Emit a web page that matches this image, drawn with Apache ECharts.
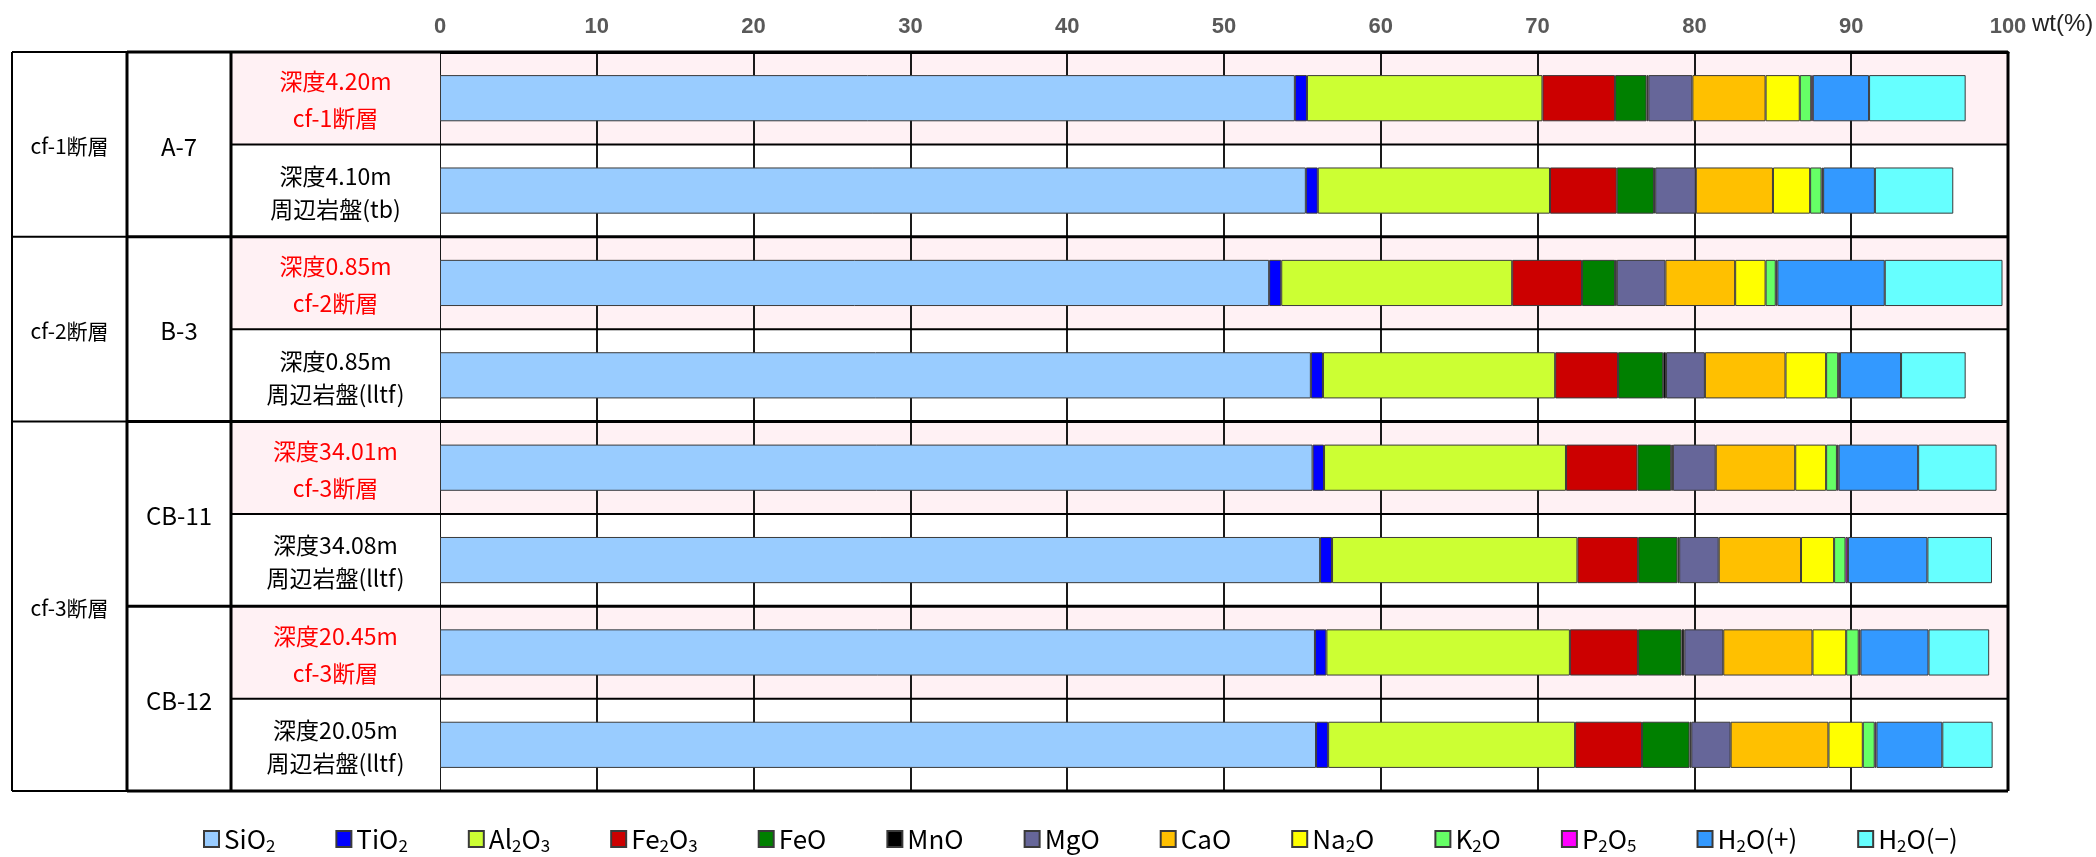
<!DOCTYPE html>
<html><head><meta charset="utf-8">
<script src="https://cdn.jsdelivr.net/npm/echarts@6/dist/echarts.min.js"></script>
<style>html,body{margin:0;padding:0;background:#fff}#c{width:2096px;height:857px}</style>
</head><body><div id="c"></div>
<script>
// ---------- data ----------
const faults = ['cf-1断層', 'cf-2断層', 'cf-3断層'];
const faultSpans = [2, 2, 4];
const boreholes = ['A-7', 'B-3', 'CB-11', 'CB-12'];
const boreholeSpans = [2, 2, 2, 2];
const sampleDepths = ['深度4.20m', '深度4.10m', '深度0.85m', '深度0.85m', '深度34.01m', '深度34.08m', '深度20.45m', '深度20.05m'];
const sampleTypes = ['cf-1断層', '周辺岩盤(tb)', 'cf-2断層', '周辺岩盤(lltf)', 'cf-3断層', '周辺岩盤(lltf)', 'cf-3断層', '周辺岩盤(lltf)'];
const sampleIsFault = [true, false, true, false, true, false, true, false];

const components = ['SiO2', 'TiO2', 'Al2O3', 'Fe2O3', 'FeO', 'MnO', 'MgO', 'CaO', 'Na2O', 'K2O', 'P2O5', 'H2O(+)', 'H2O(−)'];
const SiO2  = [54.52, 55.22, 52.88, 55.54, 55.65, 56.13, 55.80, 55.87];
const TiO2  = [0.77, 0.76, 0.77, 0.77, 0.73, 0.76, 0.73, 0.77];
const Al2O3 = [15.02, 14.81, 14.73, 14.81, 15.43, 15.65, 15.53, 15.75];
const Fe2O3 = [4.63, 4.26, 4.45, 4.01, 4.56, 3.87, 4.34, 4.27];
const FeO   = [2.01, 2.37, 2.11, 2.88, 2.15, 2.51, 2.78, 3.03];
const MnO   = [0.11, 0.08, 0.11, 0.18, 0.11, 0.11, 0.18, 0.11];
const MgO   = [2.81, 2.59, 3.10, 2.48, 2.73, 2.52, 2.48, 2.51];
const CaO   = [4.67, 4.92, 4.45, 5.14, 5.07, 5.25, 5.69, 6.24];
const Na2O  = [2.18, 2.37, 1.94, 2.59, 1.97, 2.11, 2.15, 2.19];
const K2O   = [0.73, 0.73, 0.65, 0.77, 0.69, 0.73, 0.80, 0.76];
const P2O5  = [0.10, 0.10, 0.10, 0.11, 0.11, 0.15, 0.11, 0.11];
const H2Op  = [3.59, 3.30, 6.85, 3.90, 5.07, 5.07, 4.34, 4.20];
const H2Om  = [6.16, 5.00, 7.51, 4.12, 5.00, 4.12, 3.87, 3.21];
const componentValues = [SiO2, TiO2, Al2O3, Fe2O3, FeO, MnO, MgO, CaO, Na2O, K2O, P2O5, H2Op, H2Om];

const xMin = 0, xMax = 100, xInterval = 10;
const xUnit = 'wt(%)';

// ---------- styles / layout ----------
const componentColors = ['#99CCFF', '#0000FF', '#CCFF33', '#CC0000', '#008000', '#000000', '#666699', '#FFC000', '#FFFF00', '#66FF66', '#FF00FF', '#3399FF', '#66FFFF'];
const PINK = '#FFF1F4';
const colEdges = [0, 115, 219, 428]; // label-table column edges (table axis units)
const FONT = '"Noto Sans CJK JP", "Noto Sans", sans-serif';
const LATIN = '"Liberation Sans", Arial, sans-serif';

const nRows = sampleDepths.length;
const categories = sampleDepths.map((d, i) => d + '|' + sampleTypes[i]);

function cumBounds(spans) { const b = [0]; spans.forEach(s => b.push(b[b.length - 1] + s)); return b; }
const faultBounds = cumBounds(faultSpans);
const boreBounds = cumBounds(boreholeSpans);

// table cells
const cells = [];
faults.forEach((f, i) => cells.push({ x0: colEdges[0], x1: colEdges[1], r0: faultBounds[i], r1: faultBounds[i + 1], text: f, color: '#000', fill: '#fff', size: 21, lh: 26 }));
boreholes.forEach((b, i) => cells.push({ x0: colEdges[1], x1: colEdges[2], r0: boreBounds[i], r1: boreBounds[i + 1], text: b, color: '#000', fill: '#fff', size: 24, lh: 28 }));
sampleDepths.forEach((d, i) => cells.push({ x0: colEdges[2], x1: colEdges[3], r0: i, r1: i + 1, text: d + '\n' + sampleTypes[i], color: sampleIsFault[i] ? '#FF0000' : '#000', fill: sampleIsFault[i] ? PINK : '#fff', size: 23, lh: sampleIsFault[i] ? 37 : 33 }));

// table lines [x0, y0, x1, y1, width]
const tableLines = [];
tableLines.push([colEdges[0], 0, colEdges[0], nRows, 2]);
tableLines.push([colEdges[1], 0, colEdges[1], nRows, 3]);
tableLines.push([colEdges[2], 0, colEdges[2], nRows, 3]);
faultBounds.forEach(b => tableLines.push([colEdges[0], b, colEdges[1], b, 2]));
boreBounds.forEach(b => tableLines.push([colEdges[1], b, colEdges[2], b, 3]));
for (let r = 0; r <= nRows; r++) tableLines.push([colEdges[2], r, colEdges[3], r, boreBounds.includes(r) ? 3 : 2]);

// plot lines
const plotLines = [];
for (let r = 0; r <= nRows; r++) plotLines.push([xMin, r, xMax, r, boreBounds.includes(r) ? 3 : 2]);
plotLines.push([xMax, 0, xMax, nRows, 3]);

function lineRender(params, api) {
  const d = this[params.dataIndex];
  const p0 = api.coord([d[0], d[1]]), p1 = api.coord([d[2], d[3]]);
  return { type: 'line', shape: { x1: p0[0], y1: p0[1], x2: p1[0], y2: p1[1] }, style: { stroke: '#000', lineWidth: d[4] } };
}

const series = components.map((name, k) => ({
  name, type: 'bar', stack: 'total', xAxisIndex: 0, yAxisIndex: 0,
  barWidth: '50%', data: componentValues[k],
  itemStyle: { color: componentColors[k], borderColor: '#3a3a3a', borderWidth: 1 },
  emphasis: { disabled: true }, z: 2
}));

series.push({
  type: 'custom', xAxisIndex: 1, yAxisIndex: 2, coordinateSystem: 'cartesian2d', clip: false, silent: true,
  data: cells.map(c => [c.x0, c.r0, c.x1, c.r1]),
  encode: { x: [0, 2], y: [1, 3] },
  renderItem: (params, api) => {
    const c = cells[params.dataIndex];
    const p0 = api.coord([c.x0, c.r0]), p1 = api.coord([c.x1, c.r1]);
    return { type: 'group', children: [
      { type: 'rect', shape: { x: p0[0], y: p0[1], width: p1[0] - p0[0], height: p1[1] - p0[1] }, style: { fill: c.fill } },
      { type: 'text', style: { text: c.text, x: (p0[0] + p1[0]) / 2, y: (p0[1] + p1[1]) / 2 + 2, align: 'center', verticalAlign: 'middle', fill: c.color, fontSize: c.size, fontFamily: FONT, lineHeight: c.lh } }
    ] };
  }, z: 1
});
series.push({
  type: 'custom', xAxisIndex: 1, yAxisIndex: 2, coordinateSystem: 'cartesian2d', clip: false, silent: true,
  data: tableLines, encode: { x: [0, 2], y: [1, 3] }, renderItem: lineRender.bind(tableLines), z: 5
});
series.push({
  type: 'custom', xAxisIndex: 0, yAxisIndex: 1, coordinateSystem: 'cartesian2d', clip: false, silent: true,
  data: plotLines, encode: { x: [0, 2], y: [1, 3] }, renderItem: lineRender.bind(plotLines), z: 5
});

const option = {
  animation: false,
  backgroundColor: '#fff',
  grid: [
    { left: 440, right: 88, top: 52, bottom: 66 },
    { left: 12, right: 1656, top: 52, bottom: 66 }
  ],
  xAxis: [
    { type: 'value', gridIndex: 0, position: 'top', min: xMin, max: xMax, interval: xInterval,
      axisLine: { show: true, lineStyle: { color: '#000', width: 3 } }, axisTick: { show: false },
      axisLabel: { margin: 14, color: '#595959', fontWeight: 'bold', fontSize: 22, fontFamily: LATIN },
      splitLine: { show: true, lineStyle: { color: '#1a1a1a', width: 2 } } },
    { type: 'value', gridIndex: 1, min: colEdges[0], max: colEdges[colEdges.length - 1], show: false }
  ],
  yAxis: [
    { type: 'category', gridIndex: 0, inverse: true, data: categories,
      axisLine: { show: false }, axisTick: { show: false }, axisLabel: { show: false }, splitLine: { show: false },
      splitArea: { show: true, areaStyle: { color: [PINK, '#FFFFFF'] } } },
    { type: 'value', gridIndex: 0, inverse: true, min: 0, max: nRows, show: false, splitLine: { show: false } },
    { type: 'value', gridIndex: 1, inverse: true, min: 0, max: nRows, show: false, splitLine: { show: false } }
  ],
  legend: {
    show: true, data: components, left: 198, top: 821, orient: 'horizontal',
    icon: 'rect', itemWidth: 15, itemHeight: 16, itemGap: 60,
    formatter: name => name.replace(/(\d+)|([^\d]+)/g, (m, dgt, txt) => dgt ? '{s|' + dgt + '}' : '{n|' + txt + '}'),
    textStyle: { color: '#000', fontFamily: FONT, rich: {
      n: { fontSize: 26, lineHeight: 30, fontFamily: FONT, color: '#000' },
      s: { fontSize: 17, lineHeight: 16, verticalAlign: 'bottom', fontFamily: FONT, color: '#000' }
    } },
    selectedMode: false
  },
  series
};
const chart = echarts.init(document.getElementById('c'), null, { renderer: 'canvas' });
chart.setOption(option);

// unit label placed right after the axis end, using the axis scale
const endPx = chart.convertToPixel({ xAxisIndex: 0 }, xMax);
chart.setOption({ graphic: [{ type: 'text', silent: true, style: { text: xUnit, x: endPx + 24, y: 24, align: 'left', verticalAlign: 'middle', fill: '#222', fontSize: 24, fontFamily: LATIN } }] });
</script></body></html>
